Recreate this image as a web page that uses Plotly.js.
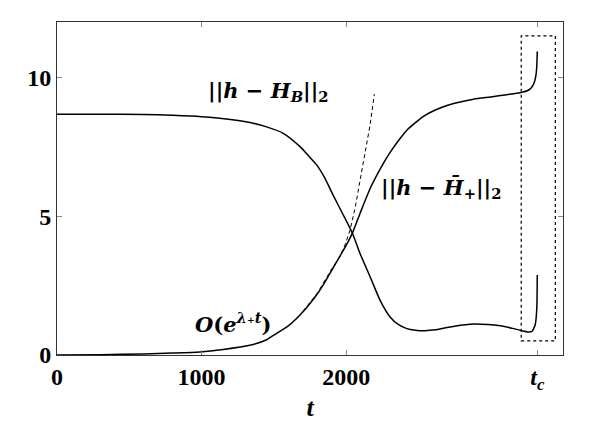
<!DOCTYPE html>
<html>
<head>
<meta charset="utf-8">
<script src="https://cdn.plot.ly/plotly-3.0.1.min.js"></script>
<style>html,body{margin:0;padding:0;background:#fff;}#chart{width:605px;height:423px;}</style>
</head>
<body>
<div id="chart"></div>
<script>
// ||h - H_B||_2
const tB = [0,300,600,800,1000,1200,1334,1450,1565,1681,1750,1796,1850,1911,1975,2044,2096,2166,2235,2304,2360,2420,2480,2535,2600,2650,2750,2881,2980,3066,3150,3204,3262,3285,3297,3308,3315,3320,3322];
const normHB = [8.68,8.68,8.67,8.64,8.59,8.49,8.38,8.22,7.99,7.51,7.12,6.85,6.4,5.75,5.1,4.38,3.66,2.82,1.97,1.37,1.1,0.95,0.89,0.87,0.9,0.94,1.04,1.12,1.1,1.05,0.96,0.89,0.83,0.85,0.95,1.1,1.37,1.9,2.88];

// ||h - H+bar||_2
const tP = [0,300,600,800,988,1150,1334,1450,1500,1600,1700,1800,1850,1900,1950,2000,2044,2096,2166,2235,2304,2373,2420,2535,2650,2750,2881,3000,3112,3204,3262,3285,3300,3312,3318,3322];
const normHP = [0.0,0.01,0.04,0.07,0.11,0.2,0.35,0.55,0.72,1.05,1.55,2.2,2.6,3.05,3.5,3.95,4.4,5.1,6.0,6.7,7.3,7.8,8.1,8.6,8.9,9.07,9.22,9.3,9.38,9.45,9.55,9.66,9.8,10.05,10.35,10.94];

// O(e^{lambda+ t}) asymptote (dashed)
const tExp = [1700,1800,1900,1958,1993,2027,2062,2096,2131,2166,2195];
const expFit = [1.57,2.22,3.1,3.55,3.98,4.5,5.3,6.25,7.25,8.3,9.4];

// axis ticks
const xTickVals = [0,1000,2000,3322];
const xTickText = ['0','1000','2000','<i>t</i><sub><i>c</i></sub>'];
const yTickVals = [0,5,10];
const yTickText = ['0','5','10'];

// zoom box near t_c
const boxT = [3211,3447];
const boxV = [0.51,11.5];

const serif = 'Liberation Serif, DejaVu Serif, serif';
const mathFont = 'DejaVu Serif, Liberation Serif, serif';
const lineStyle = {color:'#000', width:1.5, shape:'spline', smoothing:0.6};

const traces = [
  {x:tB, y:normHB, mode:'lines', line:lineStyle, hoverinfo:'skip'},
  {x:tP, y:normHP, mode:'lines', line:lineStyle, hoverinfo:'skip'},
  {x:tExp, y:expFit, mode:'lines', line:{color:'#000', width:1, dash:'4px,3px'}, hoverinfo:'skip'}
];

const axisCommon = {
  showgrid:false, zeroline:false, showline:true, linecolor:'#333', linewidth:1,
  ticks:'inside', ticklen:5, tickcolor:'#888', mirror:'ticks',
  tickfont:{family:serif, size:24, color:'#000', weight:'bold'}
};

const layout = {
  width:605, height:423,
  margin:{l:57, r:42, t:22, b:68},
  paper_bgcolor:'#fff', plot_bgcolor:'#fff',
  showlegend:false,
  xaxis:Object.assign({}, axisCommon, {
    range:[0,3500], tickmode:'array', tickvals:xTickVals, ticktext:xTickText,
    title:{text:'t', font:{family:serif, size:26, color:'#000', weight:'bold', style:'italic'}, standoff:4}
  }),
  yaxis:Object.assign({}, axisCommon, {
    range:[0,12], tickmode:'array', tickvals:yTickVals, ticktext:yTickText
  }),
  shapes:[{type:'rect', xref:'x', yref:'y', x0:boxT[0], x1:boxT[1], y0:boxV[0], y1:boxV[1],
    line:{color:'#000', width:1.2, dash:'dot'}}],
  annotations:[
    {x:1464, y:9.49, xref:'x', yref:'y', showarrow:false,
     text:'||<i>h</i> − <i>H</i><sub><i>B</i></sub>||<sub>2</sub>',
     font:{family:mathFont, size:21, color:'#000', weight:'bold'}},
    {x:2658, y:6.0, xref:'x', yref:'y', showarrow:false,
     text:'||<i>h</i> − <i>H̄</i><sub>+</sub>||<sub>2</sub>',
     font:{family:mathFont, size:21, color:'#000', weight:'bold'}},
    {x:1215, y:1.14, xref:'x', yref:'y', showarrow:false,
     text:'<i>O</i>(<i>e</i><sup><i>λ</i>₊<i>t</i></sup>)',
     font:{family:mathFont, size:21, color:'#000', weight:'bold'}}
  ]
};

Plotly.newPlot('chart', traces, layout, {displayModeBar:false});
</script>
</body>
</html>
